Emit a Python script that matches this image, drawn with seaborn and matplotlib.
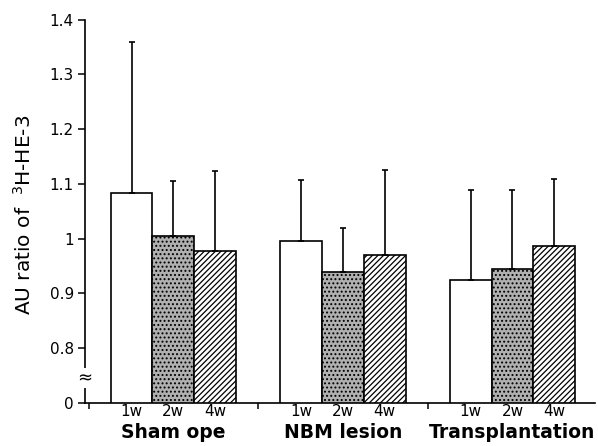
import matplotlib
matplotlib.use("Agg")
import matplotlib.pyplot as plt
import matplotlib.transforms as mtransforms
import seaborn as sns
import pandas as pd
import numpy as np

groups = ["Sham ope", "NBM lesion", "Transplantation"]
weeks = ["1w", "2w", "4w"]
means_1w = [1.084, 0.995, 0.925]
means_2w = [1.005, 0.940, 0.944]
means_4w = [0.978, 0.970, 0.986]
upper_1w = [1.359, 1.107, 1.089]
upper_2w = [1.106, 1.020, 1.089]
upper_4w = [1.123, 1.126, 1.109]
ytick_vals = [0.7, 0.8, 0.9, 1.0, 1.1, 1.2, 1.3, 1.4]
ytick_labels = ["0", "0.8", "0.9", "1", "1.1", "1.2", "1.3", "1.4"]

means = {"1w": means_1w, "2w": means_2w, "4w": means_4w}
uppers = {"1w": upper_1w, "2w": upper_2w, "4w": upper_4w}
rows = []
for w in weeks:
    for g, m, u in zip(groups, means[w], uppers[w]):
        rows.append({"group": g, "week": w, "value": m, "upper": u})
df = pd.DataFrame(rows)

sns.set_theme(style="white")
plt.rcParams["font.family"] = ["DejaVu Sans"]
plt.rcParams["hatch.linewidth"] = 0.9
for key in ["text.color", "axes.labelcolor", "xtick.color", "ytick.color"]:
    plt.rcParams[key] = "black"

fig = plt.figure(figsize=(5.98, 4.46), dpi=100)
ax = fig.add_axes([0.142, 0.0964, 0.853, 0.8596])

sns.barplot(data=df, x="group", y="value", hue="week", order=groups,
            hue_order=weeks, errorbar=None, width=0.74, gap=0,
            palette=["white", "#b0b0b0", "white"], edgecolor="black",
            linewidth=1.2, legend=False, ax=ax, saturation=1)

hatches = {"1w": "", "2w": "....", "4w": "//////"}
trans = mtransforms.blended_transform_factory(ax.transData, ax.transAxes)
n = len(groups)
for i, w in enumerate(weeks):
    bars = ax.patches[i * n:(i + 1) * n]
    for j, b in enumerate(bars):
        b.set_hatch(hatches[w])
        b.set_edgecolor("black")
        xc = b.get_x() + b.get_width() / 2
        m = means[w][j]
        u = uppers[w][j]
        ax.errorbar([xc], [m], yerr=[[0], [u - m]], fmt="none",
                    ecolor="black", elinewidth=1.2, capsize=2.5,
                    capthick=1.2, zorder=5)
        ax.text(xc, -0.034, w, transform=trans,
                ha="center", va="baseline", fontsize=11, color="black")

for k, g in enumerate(groups):
    ax.text(k, -0.091, g, transform=trans, ha="center", va="baseline",
            fontsize=13.5, fontweight="bold", color="black")

ax.set_xlim(-0.522, 2.487)
ax.set_ylim(0.7, 1.4)
ax.set_yticks(ytick_vals)
ax.set_yticklabels(ytick_labels, fontsize=11, color="black")
ax.set_xticks([-0.5, 0.5, 1.5])
ax.set_xticklabels([])
ax.set_xlabel("")
ax.set_ylabel(r"AU ratio of  $^{3}$H-HE-3", fontsize=14.5, color="black")
ax.yaxis.set_label_coords(-0.098, 0.49)
ax.tick_params(axis="y", direction="out", length=5, width=1.1, left=True, pad=3, colors="black")
ax.tick_params(axis="x", direction="out", length=4, width=1.1, bottom=True, colors="black")
for s in ["top", "right"]:
    ax.spines[s].set_visible(False)
for s in ["left", "bottom"]:
    ax.spines[s].set_color("black")
    ax.spines[s].set_linewidth(1.2)

ax.text(0.0, 0.745, "≈", transform=mtransforms.blended_transform_factory(ax.transAxes, ax.transData),
        ha="center", va="center", fontsize=13, color="black",
        bbox=dict(boxstyle="square,pad=0.05", fc="white", ec="none"), clip_on=False, zorder=6)

fig.savefig("out.png", dpi=100)
